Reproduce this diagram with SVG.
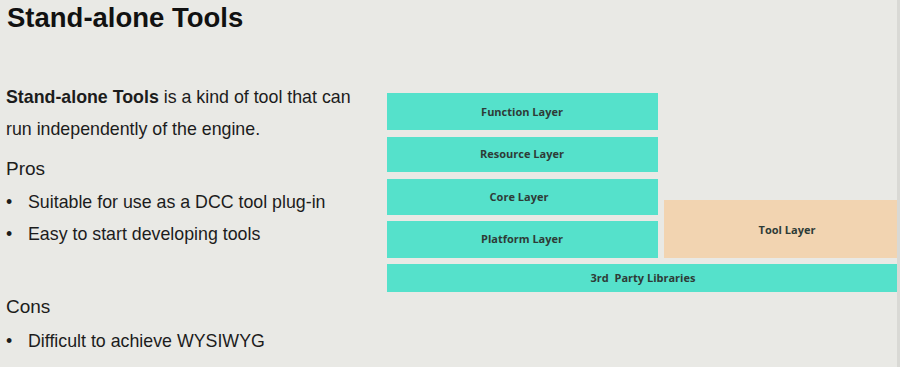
<svg xmlns="http://www.w3.org/2000/svg" width="900" height="367" viewBox="0 0 900 367">
  <style>
    .title { font-family: "Liberation Sans", Arial, sans-serif; font-weight: bold; font-size: 27.5px; fill: #111; }
    .body { font-family: "Liberation Sans", Arial, sans-serif; font-size: 17.8px; fill: #1c1c1c; }
    .head { font-family: "Liberation Sans", Arial, sans-serif; font-size: 19px; fill: #1c1c1c; }
    .layer { fill: #55e1cb; }
    .tool { fill: #f2d4b1; }
    .lbl { font-family: "Open Sans", "Noto Sans", sans-serif; font-weight: bold; font-size: 11px; fill: #2e3b37; text-anchor: middle; }
  </style>
  <rect width="900" height="367" fill="#e9e9e5"/>
  <rect x="897" y="0" width="3" height="367" fill="#d9d9d5"/>

  <text class="title" x="7" y="27">Stand-alone Tools</text>

  <text class="body" x="6" y="103"><tspan font-weight="bold">Stand-alone Tools</tspan> is a kind of tool that can</text>
  <text class="body" x="6" y="135">run independently of the engine.</text>
  <text class="head" x="6" y="175">Pros</text>
  <text class="body" x="6" y="208">•</text>
  <text class="body" x="28" y="208">Suitable for use as a DCC tool plug-in</text>
  <text class="body" x="6" y="240">•</text>
  <text class="body" x="28" y="240">Easy to start developing tools</text>
  <text class="head" x="6" y="313">Cons</text>
  <text class="body" x="6" y="347">•</text>
  <text class="body" x="28" y="347">Difficult to achieve WYSIWYG</text>

  <g id="function-layer">
    <rect class="layer" x="387" y="93" width="271" height="37"/>
    <text class="lbl" x="522" y="116">Function Layer</text>
  </g>
  <g id="resource-layer">
    <rect class="layer" x="387" y="137" width="271" height="35"/>
    <text class="lbl" x="522" y="158">Resource Layer</text>
  </g>
  <g id="core-layer">
    <rect class="layer" x="387" y="179" width="271" height="36"/>
    <text class="lbl" x="519" y="201">Core Layer</text>
  </g>
  <g id="platform-layer">
    <rect class="layer" x="387" y="221" width="271" height="37"/>
    <text class="lbl" x="522" y="243">Platform Layer</text>
  </g>
  <g id="tool-layer">
    <rect class="tool" x="664" y="200" width="233" height="58"/>
    <text class="lbl" x="787" y="234">Tool Layer</text>
  </g>
  <g id="third-party-libraries">
    <rect class="layer" x="387" y="264" width="510" height="28"/>
    <text class="lbl" x="643" y="282">3rd&#160; Party Libraries</text>
  </g>
  <g id="connectors"/>
</svg>
